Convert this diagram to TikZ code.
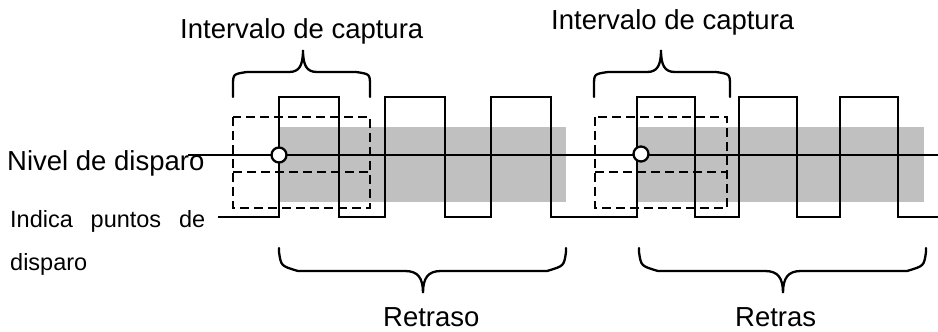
\documentclass[tikz,border=0pt]{standalone}
\usepackage{fontspec}
\setmainfont{Liberation Sans}
\definecolor{bandgray}{RGB}{192,192,192}
\begin{document}
\begin{tikzpicture}[x=1pt,y=-1pt,
  wave/.style={line width=2.3pt,line join=miter},
  level/.style={line width=1.5pt},
  dashbox/.style={line width=2.3pt,dash pattern=on 9pt off 5pt},
  brace/.style={line width=2.3pt,line cap=round},
  band/.style={fill=bandgray,draw=none},
  trig/.style={circle,draw,fill=white,line width=2.3pt,minimum size=15pt,inner sep=0pt},
  biglabel/.style={inner sep=0pt,font=\fontsize{27.5}{32}\selectfont},
  smalllabel/.style={inner sep=0pt,font=\fontsize{23.5}{28}\selectfont}]
\useasboundingbox (0,0) rectangle (938,332);
% gray bands
\fill[band] (279,127) rectangle (566,202);
\fill[band] (637,127) rectangle (924,202);
% trigger level line
\coordinate (lvlstart) at (188,155);
\coordinate (lvlend) at (938,155);
\draw[level] (lvlstart) -- (lvlend);
% square wave
\draw[wave] (218,217) -- (279,217) -- (279,97) -- (339,97) -- (339,217) -- (385,217) -- (385,97) -- (445,97) -- (445,217)
  -- (491,217) -- (491,97) -- (551,97) -- (551,217) -- (637,217) -- (637,97) -- (695,97) -- (695,217)
  -- (739,217) -- (739,97) -- (797,97) -- (797,217) -- (840,217) -- (840,97) -- (898,97) -- (898,217) -- (938,217);
% dashed capture boxes
\draw[dashbox] (233,117) rectangle (370,208);
\draw[dashbox] (233,172) -- (370,172);
\draw[dashbox] (595,117) rectangle (727,208);
\draw[dashbox] (595,172) -- (727,172);
% trigger points
\node[trig] (t1) at (279,155) {};
\node[trig] (t2) at (641,154) {};
% top braces
\draw[brace] (233,97) -- (233,86) .. controls (233,74) .. (247,72) -- (289,72) .. controls (299,72) and (303,66) .. (303,50)
  .. controls (303,66) and (307,72) .. (317,72) -- (356,72) .. controls (370,74) .. (370,86) -- (370,97);
\draw[brace] (594,97) -- (594,86) .. controls (594,74) .. (608,72) -- (647,72) .. controls (657,72) and (661,66) .. (661,50)
  .. controls (661,66) and (665,72) .. (675,72) -- (716,72) .. controls (730,74) .. (730,86) -- (730,97);
% bottom braces
\draw[brace] (279,248) -- (279,252) .. controls (281,266) .. (298,271) -- (405,271) .. controls (418,271) and (423,278) .. (423,293)
  .. controls (423,278) and (428,271) .. (441,271) -- (547,271) .. controls (564,266) .. (566,252) -- (566,248);
\draw[brace] (639,248) -- (639,252) .. controls (641,266) .. (658,271) -- (765,271) .. controls (778,271) and (783,278) .. (783,293)
  .. controls (783,278) and (788,271) .. (801,271) -- (907,271) .. controls (924,266) .. (926,252) -- (926,248);
% labels
\node[biglabel,anchor=base west] (cap1) at (180,38) {Intervalo de captura};
\node[biglabel,anchor=base west] (cap2) at (551,30) {Intervalo de captura};
\node[biglabel,anchor=base west] (nivel) at (7,170) {Nivel de disparo};
\node[smalllabel,anchor=base west] (ind1) at (10,227) {\makebox[195pt][s]{Indica\hfill puntos\hfill de}};
\node[smalllabel,anchor=base west] (ind2) at (10,270) {disparo};
\node[biglabel,anchor=base west] (ret1) at (383,326) {Retraso};
\node[biglabel,anchor=base west] (ret2) at (735,326) {Retras};
\end{tikzpicture}
\end{document}
